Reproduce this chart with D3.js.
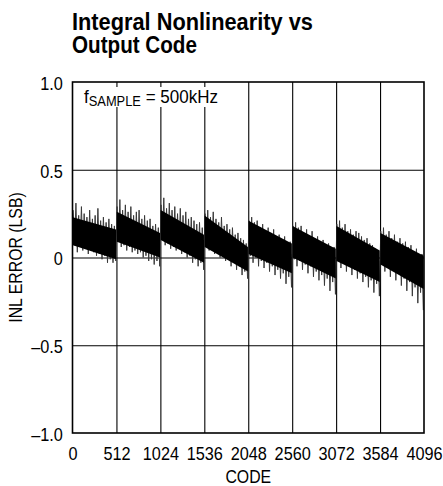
<!DOCTYPE html>
<html>
<head>
<meta charset="utf-8">
<script src="https://cdn.jsdelivr.net/npm/d3@7"></script>
<style>
  body { margin: 0; background: #fff; }
  text { font-family: "Liberation Sans", Arial, sans-serif; fill: #000; }
</style>
</head>
<body>
<div id="chart"></div>
<script>
// INL error (LSB). One segment = 512 codes.
const segStarts = [0, 512, 1024, 1536, 2048, 2560, 3072, 3584];
const coreTopStart = [0.23, 0.26, 0.27, 0.24, 0.21, 0.18, 0.18, 0.14];
const coreTopEnd   = [0.16, 0.14, 0.13, 0.06, 0.08, 0.05, 0.04, 0.01];
const coreBotStart = [0.07, 0.09, 0.10, 0.06, 0.02, 0.00, -0.02, -0.04];
const coreBotEnd   = [-0.01, 0.00, -0.03, -0.08, -0.09, -0.12, -0.14, -0.18];

// noise extremes every 32 codes within each segment
const spikeHi = [
  [0.27, 0.31, 0.24, 0.29, 0.25, 0.23, 0.27, 0.22, 0.24, 0.28, 0.21, 0.23, 0.20, 0.22, 0.19, 0.18],
  [0.29, 0.33, 0.27, 0.30, 0.26, 0.29, 0.24, 0.26, 0.27, 0.22, 0.24, 0.21, 0.22, 0.18, 0.19, 0.17],
  [0.30, 0.34, 0.28, 0.31, 0.27, 0.29, 0.25, 0.28, 0.24, 0.26, 0.22, 0.23, 0.21, 0.19, 0.20, 0.17],
  [0.25, 0.27, 0.23, 0.26, 0.22, 0.20, 0.23, 0.18, 0.19, 0.16, 0.17, 0.13, 0.14, 0.11, 0.10, 0.08],
  [0.21, 0.23, 0.20, 0.21, 0.17, 0.19, 0.15, 0.17, 0.14, 0.16, 0.12, 0.13, 0.10, 0.12, 0.08, 0.09],
  [0.18, 0.20, 0.17, 0.18, 0.14, 0.16, 0.12, 0.15, 0.11, 0.12, 0.09, 0.10, 0.07, 0.08, 0.05, 0.06],
  [0.19, 0.21, 0.17, 0.19, 0.15, 0.16, 0.13, 0.15, 0.14, 0.12, 0.10, 0.11, 0.08, 0.07, 0.05, 0.04],
  [0.15, 0.17, 0.13, 0.15, 0.11, 0.13, 0.09, 0.11, 0.08, 0.09, 0.06, 0.07, 0.03, 0.05, 0.01, 0.02]
];
const spikeLo = [
  [0.07, 0.03, 0.06, 0.04, 0.05, 0.02, 0.04, 0.03, 0.01, 0.02, -0.01, 0.01, -0.03, -0.01, -0.03, -0.02],
  [0.09, 0.06, 0.07, 0.04, 0.06, 0.03, 0.04, 0.02, 0.03, 0.00, 0.01, -0.02, -0.01, -0.04, -0.02, -0.05],
  [0.10, 0.07, 0.08, 0.05, 0.06, 0.04, 0.05, 0.02, 0.03, 0.00, 0.01, -0.03, -0.01, -0.05, -0.03, -0.07],
  [0.06, 0.04, 0.05, 0.02, 0.03, 0.00, 0.01, -0.02, -0.01, -0.05, -0.03, -0.07, -0.05, -0.10, -0.08, -0.12],
  [0.01, -0.03, 0.00, -0.05, -0.02, -0.06, -0.03, -0.08, -0.05, -0.10, -0.07, -0.12, -0.09, -0.15, -0.11, -0.17],
  [-0.01, -0.05, -0.02, -0.07, -0.04, -0.09, -0.05, -0.11, -0.08, -0.13, -0.10, -0.16, -0.12, -0.19, -0.14, -0.21],
  [-0.02, -0.06, -0.03, -0.08, -0.05, -0.10, -0.07, -0.12, -0.09, -0.14, -0.11, -0.17, -0.13, -0.20, -0.15, -0.22],
  [-0.04, -0.08, -0.05, -0.11, -0.07, -0.13, -0.09, -0.16, -0.12, -0.19, -0.14, -0.22, -0.17, -0.26, -0.20, -0.30]
];

const xTicks = [0, 512, 1024, 1536, 2048, 2560, 3072, 3584, 4096];
const yTicks = [-1, -0.5, 0, 0.5, 1];

const width = 443, height = 486;
const plotLeft = 72.5, plotRight = 424, plotTop = 82, plotBottom = 433;
const squeeze = 0.88;   // condensed look for the labels

const svg = d3.select("#chart").append("svg")
    .attr("width", width)
    .attr("height", height);

const x = d3.scaleLinear().domain([0, 4096]).range([plotLeft, plotRight]);
const y = d3.scaleLinear().domain([-1, 1]).range([plotBottom, plotTop]);

// title, squeezed to the reference width
function titleLine(txt, yPos, targetW) {
  const g = svg.append("g").attr("transform", `translate(72,${yPos})`);
  const t = g.append("text").attr("font-size", 24.5).attr("font-weight", "bold").text(txt);
  const w = t.node().getComputedTextLength();
  t.attr("transform", `scale(${targetW / w},1)`);
}
titleLine("Integral Nonlinearity vs", 30, 241);
titleLine("Output Code", 53, 125);

// grid
svg.append("g")
    .attr("transform", `translate(0,${plotBottom})`)
    .call(d3.axisBottom(x).tickValues(xTicks.slice(1, -1)).tickSize(-(plotBottom - plotTop)).tickFormat(""))
    .call(g => g.select(".domain").remove())
    .call(g => g.selectAll("line").attr("stroke", "#000").attr("stroke-width", 1.1));

svg.append("g")
    .attr("transform", `translate(${plotLeft},0)`)
    .call(d3.axisLeft(y).tickValues([-0.5, 0, 0.5]).tickSize(-(plotRight - plotLeft)).tickFormat(""))
    .call(g => g.select(".domain").remove())
    .call(g => g.selectAll("line").attr("stroke", "#000").attr("stroke-width", 1.1));

// data: dense core plus the noise trace
const plot = svg.append("g");
const area = d3.area()
    .x(d => x(d.c))
    .y0(d => y(d.b))
    .y1(d => y(d.t));

const trace = [];
segStarts.forEach((s, k) => {
  spikeHi[k].forEach((hi, i) => {
    trace.push({ c: s + 8 + 32 * i, v: hi });
    trace.push({ c: s + 24 + 32 * i, v: spikeLo[k][i] });
  });
});

plot.append("path")
    .datum(trace)
    .attr("d", d3.line().x(d => x(d.c)).y(d => y(d.v)))
    .attr("fill", "none")
    .attr("stroke", "#3a3a3a")
    .attr("stroke-width", 1);

segStarts.forEach((s, k) => {
  plot.append("path")
      .datum([
        { c: s + 4, t: coreTopStart[k], b: coreBotStart[k] },
        { c: s + 508, t: coreTopEnd[k], b: coreBotEnd[k] }
      ])
      .attr("d", area)
      .attr("fill", "#000");
});

// frame
svg.append("rect")
    .attr("x", plotLeft)
    .attr("y", plotTop)
    .attr("width", plotRight - plotLeft)
    .attr("height", plotBottom - plotTop)
    .attr("fill", "none")
    .attr("stroke", "#000")
    .attr("stroke-width", 1.6);

// annotation with a white backing that breaks the grid
svg.append("rect")
    .attr("x", 80).attr("y", 87)
    .attr("width", 142).attr("height", 20)
    .attr("fill", "#fff");
const note = svg.append("g")
    .attr("transform", `translate(84,103) scale(0.92,1)`)
    .append("text")
    .attr("font-size", 18.5);
note.append("tspan").text("f");
note.append("tspan").attr("font-size", 14).attr("dy", 3).text("SAMPLE");
note.append("tspan").attr("dy", -3).text(" = 500kHz");

// axes labels
svg.append("g")
    .attr("transform", `translate(${plotLeft},0)`)
    .call(d3.axisLeft(y).tickValues(yTicks).tickSize(0).tickPadding(11)
        .tickFormat(d => d === 0 ? "0" : (d < 0 ? "\u2013" : "") + Math.abs(d).toFixed(1)))
    .call(g => g.select(".domain").remove())
    .call(g => g.selectAll("text")
        .attr("font-size", 18.5).attr("font-family", null)
        .attr("dy", "0.4em")
        .attr("transform", `scale(${squeeze},1)`));

svg.append("g")
    .attr("transform", `translate(0,${plotBottom})`)
    .call(d3.axisBottom(x).tickValues(xTicks).tickSize(0).tickPadding(14).tickFormat(d3.format("d")))
    .call(g => g.select(".domain").remove())
    .call(g => g.selectAll("text")
        .attr("font-size", 18.5).attr("font-family", null)
        .attr("transform", `scale(${squeeze},1)`));

svg.append("g")
    .attr("transform", `translate(${(plotLeft + plotRight) / 2},483) scale(${squeeze},1)`)
    .append("text")
    .attr("text-anchor", "middle")
    .attr("font-size", 18)
    .text("CODE");

svg.append("g")
    .attr("transform", `translate(22,${(plotTop + plotBottom) / 2}) rotate(-90) scale(${squeeze},1)`)
    .append("text")
    .attr("text-anchor", "middle")
    .attr("font-size", 18)
    .text("INL ERROR (LSB)");
</script>
</body>
</html>
